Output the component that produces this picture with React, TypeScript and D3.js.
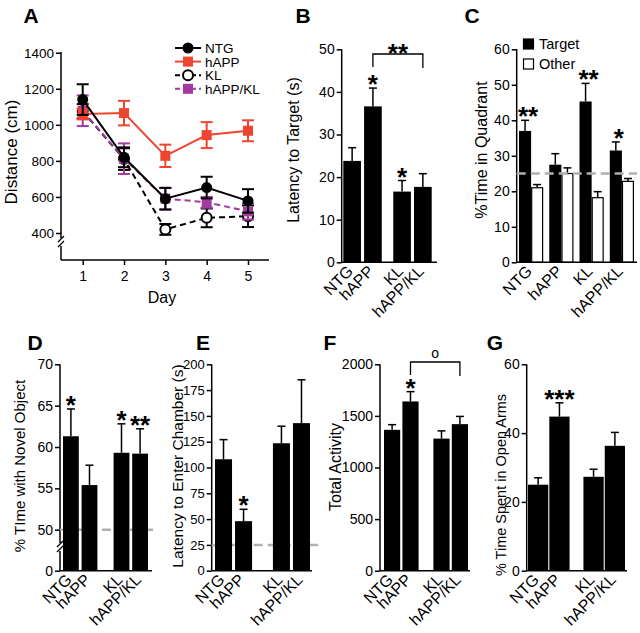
import React, { useRef, useEffect } from 'react';
import * as d3 from 'd3';

// panel A - distance travelled per day
const days = [1, 2, 3, 4, 5];
const distTicks = [400, 600, 800, 1000, 1200, 1400];
const distNTG = [1140, 820, 590, 652, 578];
const distNTGErr = [85, 55, 60, 60, 65];
const distHAPP = [1060, 1065, 828, 943, 967];
const distHAPPErr = [30, 68, 62, 72, 58];
const distKL = [1075, 810, 420, 484, 493];
const distKLErr = [40, 60, 30, 52, 60];
const distHAPPKL = [1078, 812, 591, 570, 520];
const distHAPPKLErr = [85, 85, 60, 30, 45];

const genotypes = ['NTG', 'hAPP', 'KL', 'hAPP/KL'];

// B
const latency = [23.8, 36.6, 16.6, 17.7];
const latencyErr = [3.1, 4.3, 2.6, 3.1];
const latencyStars = ['', '*', '*', ''];
// C
const quadTarget = [37, 27.5, 45.3, 31.5];
const quadTargetErr = [3, 3.1, 5.1, 2.4];
const quadOther = [21, 25, 18.2, 22.8];
const quadOtherErr = [0.9, 1.6, 1.7, 0.8];
const quadStars = ['**', '', '**', '*'];
// D
const novel = [61.3, 55.4, 59.3, 59.2];
const novelErr = [3.3, 2.4, 3.5, 3.0];
const novelStars = ['*', '', '*', '**'];
// E
const chamber = [108, 48, 123.5, 143];
const chamberErr = [19, 11.5, 16.5, 42];
const chamberStars = ['', '*', '', ''];
// F
const activity = [1365, 1640, 1280, 1420];
const activityErr = [50, 95, 75, 75];
const activityStars = ['', '*', '', ''];
// G
const openArms = [25, 44.8, 27.3, 36.3];
const openArmsErr = [2, 4, 2.2, 3.9];
const openArmsStars = ['', '***', '', ''];

const FONT = '"Liberation Sans", Arial, sans-serif';
const RED = '#ee4530';
const PURPLE = '#a23aa0';
const GREY = '#b0b0b0';

const App = () => {
  const svgRef = useRef(null);

  useEffect(() => {
    const svg = d3.select(svgRef.current);
    svg.selectAll('*').remove();
    svg.style('font-family', FONT);

    const letter = (t, x, y) =>
      svg.append('text').attr('x', x).attr('y', y).attr('text-anchor', 'middle')
        .attr('font-size', 21).attr('font-weight', 'bold').text(t);

    const yTitle = (t, x, y, size = 16) =>
      svg.append('text').attr('transform', `translate(${x},${y}) rotate(-90)`)
        .attr('text-anchor', 'middle').attr('dy', '0.35em').attr('font-size', size).text(t);

    // asterisks sit high in the em box, so push baseline down to centre them
    const star = (t, x, yCenter) =>
      svg.append('text').attr('x', x).attr('y', yCenter + 15).attr('text-anchor', 'middle')
        .attr('font-size', 26).attr('font-weight', 'bold').text(t);

    const catLabel = (t, cx, base) =>
      svg.append('text').attr('transform', `translate(${cx + 2},${base + 10}) rotate(-45)`)
        .attr('text-anchor', 'end').attr('font-size', 16).text(t);

    const yAxis = (g, y, ticks, size = 14) => {
      g.call(d3.axisLeft(y).tickValues(ticks).tickSize(5).tickPadding(2).tickFormat(d3.format('d')))
        .call(a => a.select('.domain').remove())
        .call(a => a.selectAll('line').attr('stroke-width', 1.5))
        .call(a => a.selectAll('text').attr('font-size', size).attr('font-family', FONT).attr('fill', '#000'));
    };

    // ---------------- A ----------------
    {
      const x = d3.scaleLinear().domain([1, 5]).range([82.7, 248]);
      const y = d3.scaleLinear().domain([400, 1400]).range([233, 52.7]);
      const ax = 61, ay = 260;
      const g = svg.append('g').attr('transform', `translate(${ax},0)`);
      yAxis(g, y, distTicks, 13.5);
      svg.append('line').attr('x1', ax).attr('x2', ax).attr('y1', 52).attr('y2', 238).attr('stroke', '#000').attr('stroke-width', 1.5);
      svg.append('line').attr('x1', ax).attr('x2', ax).attr('y1', 246).attr('y2', ay).attr('stroke', '#000').attr('stroke-width', 1.5);
      [238, 243].forEach(b => svg.append('line').attr('x1', ax - 3).attr('x2', ax + 3).attr('y1', b + 4).attr('y2', b - 2).attr('stroke', '#000').attr('stroke-width', 1.2));
      const gx = svg.append('g').attr('transform', `translate(0,${ay})`);
      gx.call(d3.axisBottom(x).tickValues(days).tickSize(5).tickFormat(d3.format('d')))
        .call(a => a.select('.domain').remove())
        .call(a => a.selectAll('line').attr('stroke-width', 1.5))
        .call(a => a.selectAll('text').attr('font-size', 14).attr('font-family', FONT).attr('dy', '0.9em'));
      svg.append('line').attr('x1', ax).attr('x2', 269).attr('y1', ay).attr('y2', ay).attr('stroke', '#000').attr('stroke-width', 1.5);
      svg.append('text').attr('x', 162).attr('y', 303).attr('text-anchor', 'middle').attr('font-size', 16).text('Day');
      yTitle('Distance (cm)', 11, 152, 17);
      letter('A', 31, 23);

      const series = [
        { name: 'NTG', v: distNTG, e: distNTGErr, color: '#000', dash: null, shape: 'circle', fill: '#000' },
        { name: 'hAPP', v: distHAPP, e: distHAPPErr, color: RED, dash: null, shape: 'square', fill: RED },
        { name: 'KL', v: distKL, e: distKLErr, color: '#000', dash: '6,4', shape: 'circle', fill: '#fff' },
        { name: 'hAPP/KL', v: distHAPPKL, e: distHAPPKLErr, color: PURPLE, dash: '6,4', shape: 'square', fill: PURPLE },
      ];
      const line = d3.line().x((d, i) => x(days[i])).y(d => y(d));
      const marker = (sel, s, cx, cy) => {
        if (s.shape === 'circle') {
          sel.append('circle').attr('cx', cx).attr('cy', cy).attr('r', s.fill === '#fff' ? 5 : 4.5)
            .attr('fill', s.fill).attr('stroke', s.color).attr('stroke-width', 2);
        } else {
          sel.append('rect').attr('x', cx - 5).attr('y', cy - 5).attr('width', 10).attr('height', 10).attr('fill', s.fill);
        }
      };
      // draw KL & hAPP/KL first so NTG/hAPP lines sit on top like the original
      [series[2], series[3], series[1], series[0]].forEach(s => {
        const sg = svg.append('g');
        s.v.forEach((v, i) => {
          const cx = x(days[i]);
          sg.append('line').attr('x1', cx).attr('x2', cx).attr('y1', y(v + s.e[i])).attr('y2', y(v - s.e[i]))
            .attr('stroke', s.color).attr('stroke-width', 2);
          [v + s.e[i], v - s.e[i]].forEach(c => sg.append('line').attr('x1', cx - 6).attr('x2', cx + 6)
            .attr('y1', y(c)).attr('y2', y(c)).attr('stroke', s.color).attr('stroke-width', 2));
        });
        sg.append('path').datum(s.v).attr('d', line).attr('fill', 'none').attr('stroke', s.color)
          .attr('stroke-width', 2).attr('stroke-dasharray', s.dash);
        s.v.forEach((v, i) => marker(sg, s, x(days[i]), y(v)));
      });
      // legend
      series.forEach((s, i) => {
        const ly = 48 + i * 13.6;
        svg.append('line').attr('x1', 175).attr('x2', 201).attr('y1', ly).attr('y2', ly).attr('stroke', s.color)
          .attr('stroke-width', 2).attr('stroke-dasharray', s.dash ? '5,3' : null);
        marker(svg, s, 188, ly);
        svg.append('text').attr('x', 205).attr('y', ly + 5).attr('font-size', 13.5).text(s.name);
      });
    }

    // generic grouped bar panel: genotypes split into two pairs (non-KL / KL)
    const barPanel = (o) => {
      const y = d3.scaleLinear().domain(o.domain).range(o.range);
      const outer = d3.scaleBand().domain([0, 1]).range(o.barRange).paddingInner(o.outerPad);
      const inner = d3.scaleBand().domain([0, 1]).range([0, outer.bandwidth()]).paddingInner(o.innerPad);
      const bx = i => outer(Math.floor(i / 2)) + inner(i % 2);
      const bw = inner.bandwidth();
      const base = o.range[0];
      const g = svg.append('g').attr('transform', `translate(${o.ax},0)`);
      yAxis(g, y, o.ticks, o.tickSize);
      if (o.breakAt) {
        svg.append('line').attr('x1', o.ax).attr('x2', o.ax).attr('y1', o.range[o.range.length - 1]).attr('y2', o.breakAt).attr('stroke', '#000').attr('stroke-width', 1.5);
        svg.append('line').attr('x1', o.ax).attr('x2', o.ax).attr('y1', o.breakAt + 8).attr('y2', base).attr('stroke', '#000').attr('stroke-width', 1.5);
        [o.breakAt, o.breakAt + 5].forEach(b => svg.append('line').attr('x1', o.ax - 3).attr('x2', o.ax + 3).attr('y1', b + 4).attr('y2', b - 2).attr('stroke', '#000').attr('stroke-width', 1.2));
      } else {
        svg.append('line').attr('x1', o.ax).attr('x2', o.ax).attr('y1', o.range[o.range.length - 1]).attr('y2', base).attr('stroke', '#000').attr('stroke-width', 1.5);
      }
      if (o.dashed != null) {
        svg.append('line').attr('x1', o.ax).attr('x2', o.dashEnd).attr('y1', y(o.dashed)).attr('y2', y(o.dashed))
          .attr('stroke', GREY).attr('stroke-width', 2.5).attr('stroke-dasharray', '9,5');
      }
      o.values.forEach((v, i) => {
        const cx = bx(i) + bw / 2;
        const top = y(v + o.errors[i]);
        svg.append('line').attr('x1', cx).attr('x2', cx).attr('y1', y(v)).attr('y2', top).attr('stroke', '#000').attr('stroke-width', 1.5);
        svg.append('line').attr('x1', cx - 4).attr('x2', cx + 4).attr('y1', top).attr('y2', top).attr('stroke', '#000').attr('stroke-width', 1.5);
        svg.append('rect').attr('x', bx(i)).attr('y', y(v)).attr('width', bw).attr('height', base - y(v)).attr('fill', '#000');
        if (o.stars[i]) star(o.stars[i], cx, top - 10);
        catLabel(genotypes[i], cx, base);
      });
      svg.append('line').attr('x1', o.ax).attr('x2', o.xEnd).attr('y1', base).attr('y2', base).attr('stroke', '#000').attr('stroke-width', 1.5);
      if (o.bracket) {
        const [a, b, yb, lbl, lsize] = o.bracket;
        const xa = bx(a) + bw / 2, xb = bx(b) + bw / 2;
        svg.append('path').attr('d', `M${xa},${yb + 13}V${yb}H${xb}V${yb + 14}`).attr('fill', 'none').attr('stroke', '#000').attr('stroke-width', 1.3);
        if (lsize) {
          svg.append('text').attr('x', (xa + xb) / 2).attr('y', yb - 4).attr('text-anchor', 'middle').attr('font-size', lsize).text(lbl);
        } else star(lbl, (xa + xb) / 2, yb - 7);
      }
      yTitle(o.title, o.titleX, o.titleY, o.titleSize);
      letter(o.letter, o.lx, o.ly);
    };

    barPanel({
      domain: [0, 50], range: [262.3, 49.3], ticks: [0, 10, 20, 30, 40, 50], ax: 341.7, xEnd: 437,
      barRange: [343.3, 431.7], outerPad: 0.23, innerPad: 0.15,
      values: latency, errors: latencyErr, stars: latencyStars,
      bracket: [1, 3, 54, '**'], title: 'Latency to Target (s)', titleX: 293, titleY: 150, letter: 'B', lx: 303, ly: 23,
    });
    barPanel({
      domain: [0, 50, 70], range: [570.7, 529.7, 364.3], ticks: [0, 50, 55, 60, 65, 70], ax: 60, xEnd: 152,
      barRange: [63, 148], outerPad: 0.32, innerPad: 0.15, breakAt: 543,
      values: novel, errors: novelErr, stars: novelStars, dashed: 50, dashEnd: 154,
      title: '% TIme with Novel Object', titleX: 20, titleY: 466, titleSize: 15, letter: 'D', lx: 35, ly: 350,
    });
    barPanel({
      domain: [0, 200], range: [570.7, 364.3], ticks: [0, 25, 50, 75, 100, 125, 150, 175, 200], ax: 211.7, xEnd: 312,
      barRange: [215, 310], outerPad: 0.36, innerPad: 0.15, tickSize: 13,
      values: chamber, errors: chamberErr, stars: chamberStars, dashed: 25, dashEnd: 318,
      title: 'Latency to Enter Chamber (s)', titleX: 178, titleY: 466, titleSize: 15.5, letter: 'E', lx: 203, ly: 350,
    });
    barPanel({
      domain: [0, 2000], range: [570.7, 364.3], ticks: [0, 500, 1000, 1500, 2000], ax: 380, xEnd: 470,
      barRange: [384, 468], outerPad: 0.3, innerPad: 0.12,
      values: activity, errors: activityErr, stars: activityStars,
      bracket: [1, 3, 362, 'o', 14], title: 'Total Activity', titleX: 335, titleY: 467, letter: 'F', lx: 330, ly: 350,
    });
    barPanel({
      domain: [0, 60], range: [570.7, 364.3], ticks: [0, 20, 40, 60], ax: 526.7, xEnd: 627,
      barRange: [528, 625], outerPad: 0.25, innerPad: 0.05,
      values: openArms, errors: openArmsErr, stars: openArmsStars,
      title: '% Time Spent in Open Arms', titleX: 501, titleY: 485, titleSize: 14.5, letter: 'G', lx: 495, ly: 350,
    });

    // ---------------- C ----------------
    {
      const y = d3.scaleLinear().domain([0, 60]).range([262.3, 49.3]);
      const outer = d3.scaleBand().domain(genotypes).range([519, 634]).paddingInner(0.2);
      const inner = d3.scaleBand().domain(['Target', 'Other']).range([0, outer.bandwidth()]);
      const ax = 516.7, base = 262.3;
      const g = svg.append('g').attr('transform', `translate(${ax},0)`);
      yAxis(g, y, [0, 10, 20, 30, 40, 50, 60]);
      svg.append('line').attr('x1', ax).attr('x2', ax).attr('y1', 49).attr('y2', base).attr('stroke', '#000').attr('stroke-width', 1.5);
      const sets = [
        { key: 'Target', v: quadTarget, e: quadTargetErr, fill: '#000' },
        { key: 'Other', v: quadOther, e: quadOtherErr, fill: '#fff' },
      ];
      sets.forEach(s => {
        genotypes.forEach((gname, i) => {
          const x0 = outer(gname) + inner(s.key);
          const w = inner.bandwidth();
          const cx = x0 + w / 2;
          const top = y(s.v[i] + s.e[i]);
          svg.append('line').attr('x1', cx).attr('x2', cx).attr('y1', y(s.v[i])).attr('y2', top).attr('stroke', '#000').attr('stroke-width', 1.5);
          svg.append('line').attr('x1', cx - 4).attr('x2', cx + 4).attr('y1', top).attr('y2', top).attr('stroke', '#000').attr('stroke-width', 1.5);
          svg.append('rect').attr('x', x0 + (s.fill === '#fff' ? 0.6 : 0)).attr('y', y(s.v[i]))
            .attr('width', w - (s.fill === '#fff' ? 1.2 : 0)).attr('height', base - y(s.v[i]))
            .attr('fill', s.fill).attr('stroke', s.fill === '#fff' ? '#000' : null).attr('stroke-width', 1.2);
          if (s.key === 'Target' && quadStars[i]) star(quadStars[i], outer(gname) + outer.bandwidth() / 2 - 3, top - 10);
        });
      });
      svg.append('line').attr('x1', ax).attr('x2', 637).attr('y1', y(25)).attr('y2', y(25))
        .attr('stroke', GREY).attr('stroke-width', 2.5).attr('stroke-dasharray', '9,5');
      svg.append('line').attr('x1', ax).attr('x2', 637).attr('y1', base).attr('y2', base).attr('stroke', '#000').attr('stroke-width', 1.5);
      genotypes.forEach(gname => catLabel(gname, outer(gname) + outer.bandwidth() / 2, base));
      sets.forEach((s, i) => {
        const ly = 44 + i * 20;
        svg.append('rect').attr('x', 523.5).attr('y', ly - 5).attr('width', 10).attr('height', 10)
          .attr('fill', s.fill).attr('stroke', '#000').attr('stroke-width', 1.2);
        svg.append('text').attr('x', 539).attr('y', ly + 5).attr('font-size', 14.5).text(s.key);
      });
      yTitle('%Time in Quadrant', 481, 150);
      letter('C', 472, 23);
    }
  }, []);

  return <svg ref={svgRef} width={640} height={633} style={{ position: 'absolute', left: 0, top: 0, background: '#fff' }}></svg>;
};

export default App;
